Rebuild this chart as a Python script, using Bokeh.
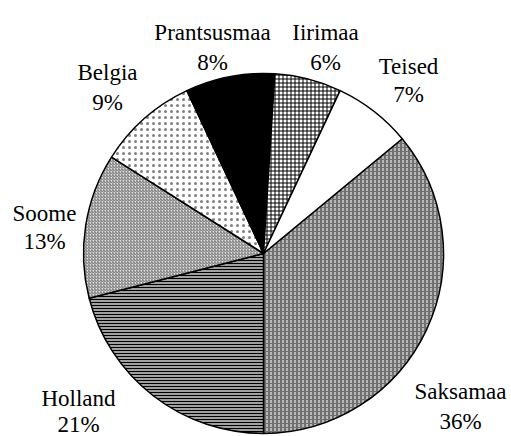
import math
from bokeh.plotting import figure
from bokeh.models import Range1d
from bokeh.core.properties import value
from bokeh.embed import file_html
from bokeh.resources import INLINE

# ---- data ----
categories = ["Saksamaa", "Holland", "Soome", "Belgia", "Prantsusmaa", "Iirimaa", "Teised"]
shares = [36, 21, 13, 9, 8, 6, 7]
pct_labels = [f"{s}%" for s in shares]

# ---- styles (fill, hatch pattern, hatch colour, hatch scale) ----
styles = [
    ("#707070", ":", "white", 4),
    ("#a0a0a0", "-", "black", 3),
    ("#e0e0e0", "/", "#707070", 3),
    ("white", ".", "#808080", 6),
    ("black", None, None, None),
    ("white", "+", "black", 4),
    ("white", None, None, None),
]
# label anchors: (dx, name-baseline dy, percent-baseline dy) in px relative to pie centre (screen coords)
label_offsets = [
    (197, 138, 168),
    (-185, 145, 171),
    (-219, -40, -12),
    (-156, -181, -151),
    (-51, -221, -191),
    (62, -221, -191),
    (145, -187, -159),
]

W, H = 511, 436
cx_img, cy_img, R = 263, 253, 180
cx, cy = cx_img, H - cy_img

p = figure(width=W, height=H, x_range=Range1d(0, W), y_range=Range1d(0, H),
           output_backend="svg", toolbar_location=None, min_border=0)
p.axis.visible = False
p.grid.visible = False
p.outline_line_color = None
p.background_fill_color = "white"

total = sum(shares)
theta = 180 - shares[0] / total * 360  # clockwise from top; first slice ends at the bottom
for i, (cat, s) in enumerate(zip(categories, shares)):
    t1 = theta
    t2 = theta + s / total * 360
    theta = t2
    fill, hp, hc, hs = styles[i]
    kw = dict(x=cx, y=cy, radius=R,
              start_angle=math.radians(90 - t2), end_angle=math.radians(90 - t1),
              direction="anticlock", fill_color=fill, line_color="black", line_width=1.5)
    if hp:
        kw.update(hatch_pattern=hp, hatch_color=hc, hatch_scale=hs, hatch_weight=1)
    p.wedge(**kw)

xs, ys1, ys2 = [], [], []
for dx, d1, d2 in label_offsets:
    xs.append(cx + dx)
    ys1.append(cy - d1)
    ys2.append(cy - d2)

font = value("'Liberation Serif', 'Times New Roman', serif")
p.text(x=xs, y=ys1, text=categories, text_font=font, text_font_size="23px",
       text_align="center", text_baseline="alphabetic", text_color="black")
p.text(x=xs, y=ys2, text=pct_labels, text_font=font, text_font_size="23px",
       text_align="center", text_baseline="alphabetic", text_color="black")

open("out.html", "w").write(file_html(p, INLINE))
